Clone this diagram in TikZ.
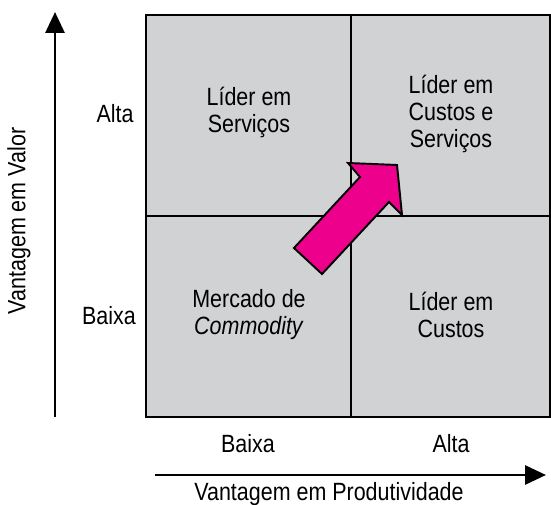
\documentclass[tikz,border=0pt]{standalone}
\usepackage{fontspec}
\setmainfont{Liberation Sans}[FakeStretch=0.86]
\usetikzlibrary{arrows.meta}

\definecolor{quadgray}{HTML}{D1D2D4}
\definecolor{arrowpink}{HTML}{EC008C}

\tikzset{
  label/.style={font=\fontsize{14.2}{15.4}\selectfont, align=center, inner sep=0pt},
  axis/.style={line width=1.7pt, -{Triangle[width=3.8mm,length=4.2mm]}}
}

\begin{document}
\begin{tikzpicture}[x=0.2mm,y=-0.2mm]
\useasboundingbox (0,0) rectangle (551,505);

% quadrants
\fill[color=quadgray] (146,15) rectangle (550,417);
\draw[line width=0.9pt] (146,15) rectangle (550,417);
\draw[line width=0.9pt] (351,15) -- (351,417);
\draw[line width=0.9pt] (146,216) -- (550,216);

\node[label] (ls) at (249,112) {Líder em\\Serviços};
\node[label] (lcs) at (451,114) {Líder em\\Custos e\\Serviços};
\node[label] (mc) at (249,315) {Mercado de\\\textit{Commodity}};
\node[label] (lc) at (451,315) {Líder em\\Custos};

% strategy arrow
\draw[line width=1.1pt, fill=arrowpink, line join=miter]
  (294,248) -- (322,274) -- (389,202) -- (402,215) -- (397,165)
  -- (348,163) -- (360,177) -- cycle;

% axes
\coordinate (yfrom) at (55,417);
\coordinate (yto) at (55,12);
\coordinate (xfrom) at (155,475);
\coordinate (xto) at (546,475);
\draw[axis] (yfrom) -- (yto);
\draw[axis] (xfrom) -- (xto);

\node[label, anchor=base] (yhigh) at (115,123) {Alta};
\node[label, anchor=base] (ylow) at (109,325) {Baixa};
\node[label, anchor=base] (xlow) at (248,452) {Baixa};
\node[label, anchor=base] (xhigh) at (451,452) {Alta};

\node[label, rotate=90] (ytitle) at (19,221) {Vantagem em Valor};
\node[label, anchor=base] (xtitle) at (329,500) {Vantagem em Produtividade};
\end{tikzpicture}
\end{document}
